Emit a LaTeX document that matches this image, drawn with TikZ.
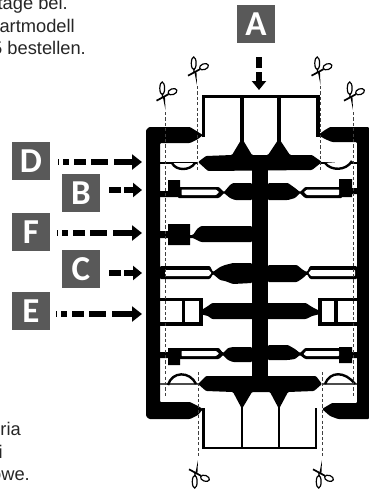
\documentclass[tikz,border=0pt]{standalone}
\usepackage{fontspec}
\setmainfont{Liberation Sans}
\newfontfamily\boxfont{Carlito}[BoldFont={Carlito Bold}]
\usetikzlibrary{arrows.meta}
\definecolor{boxgrey}{HTML}{595959}
\tikzset{
  x=1pt,y=-1pt,
  letterbox/.style={fill=boxgrey,text=white,minimum size=38pt,inner sep=0pt,font=\fontsize{35}{35}\selectfont\bfseries\boxfont},
  bodytext/.style={inner sep=0pt,font=\fontsize{18.3}{22}\selectfont,text=black!85},
  solidpart/.style={fill=black,rounded corners=1pt},
  thinline/.style={draw=black,line width=2.4pt,line join=round},
  boxline/.style={draw=black,line width=3.4pt,line join=miter},
  voidpart/.style={fill=white,rounded corners=.6pt},
  cutline/.style={draw=black!75,line width=.9pt,dash pattern=on 3.2pt off 2.2pt},
  longflow/.style={line width=6pt,dash pattern=on .8pt off 4.5pt on 6pt off 5pt on 12pt off 5pt on 17pt off 6pt on 30pt off 0pt,-{Triangle[length=10pt,width=15pt]}},
  shortflow/.style={line width=6pt,dash pattern=on 12pt off 3pt on 30pt off 0pt,-{Triangle[length=9pt,width=14pt]}},
  downflow/.style={line width=6pt,dash pattern=on 11pt off 4pt on 30pt off 0pt,-{Triangle[length=9pt,width=14pt]}},
  shears/.pic={
    \fill (0,0) -- (-2.8,-14) -- (-.6,-14) -- cycle;
    \draw[line width=1.2pt] (-3.2,-13) -- (-2.7,-16);
    \draw[line width=1.2pt] (-3.3,-21.7) ellipse [x radius=2.4pt,y radius=6.3pt];
    \draw[line width=1.2pt,rotate around={20:(7,-18.3)}] (7,-18.3) ellipse [x radius=4.6pt,y radius=2.9pt];
    \draw[line width=1.7pt] (-9,-9.3) -- (3,-15.8);
  }
}
\begin{document}
\begin{tikzpicture}
\useasboundingbox (0,0) rectangle (369,491);
% frame
\fill[solidpart] (149,127) -- (190,127) -- (198,132) -- (203,135) -- (198,139) -- (190,143) -- (160,143) -- (160,402) -- (190,402) -- (198,406) -- (203,409) -- (198,415) -- (190,419) -- (149,419) -- (146,416) -- (146,130) -- cycle;
\fill[solidpart] (369,127) -- (330,127) -- (325,130) -- (318,135) -- (325,139) -- (332,142) -- (357,142) -- (357,403) -- (332,403) -- (322,409) -- (330,416) -- (338,419) -- (369,419) -- cycle;
% upper and lower compartment
\draw[boxline] (203.5,137) -- (203.5,96.5) -- (318,96.5) -- (318,137);
\draw[line width=3.3pt] (242,96) -- (242,145) (279,96) -- (279,145);
\draw[line width=2.8pt] (203.5,408) -- (203.5,448) -- (316,448) -- (316,408);
\draw[line width=1.8pt] (242,404) -- (242,449) (279,404) -- (279,449);
% spine and main bars
\fill[black] (252,155) rectangle (268,392);
\fill[solidpart] (198,162) -- (206,156) -- (232,155) -- (241,140) -- (243,140) -- (252,155) -- (268,155) -- (278,140) -- (280,140) -- (290,155) -- (312,155) -- (322,162) -- (312,170) -- (208,171) -- cycle;
\fill[solidpart] (198,384) -- (206,376) -- (316,376) -- (322,384) -- (314,391) -- (288,392) -- (279.5,408) -- (278.5,408) -- (270,392) -- (252,392) -- (242.5,408) -- (241.5,408) -- (233,392) -- (206,391) -- cycle;
% row D
\draw[thinline] (160,163) -- (198,163);
\filldraw[thinline,fill=white] (172,163) .. controls (176,171) and (190,171) .. (195,163);
\draw[thinline] (320,163) -- (357,163);
\filldraw[thinline,fill=white] (325,163) .. controls (331,171) and (346,171) .. (352,161);
% row B
\fill[black] (160,191) rectangle (168,197) (168,180) rectangle (180,197);
\fill[solidpart] (178,187) -- (219,187) -- (224,192) -- (230,185) -- (233,183) -- (252,183) -- (252,200) -- (235,200) -- (230,198) -- (224,193) -- (219,198) -- (178,198) -- cycle;
\fill[voidpart] (181.5,189.6) -- (216,189.6) -- (219,192) -- (216,195) -- (181.5,195) -- cycle;
\fill[black] (352,188) rectangle (357,194) (339,179) rectangle (352,197);
\fill[solidpart] (268,183) -- (288,183) -- (295,188) -- (300,192) -- (305,187) -- (342,187) -- (342,198) -- (305,198) -- (300,193) -- (295,198) -- (288,200) -- (268,200) -- cycle;
\fill[voidpart] (304,192) -- (307,189.6) -- (339,189.6) -- (339,195) -- (307,195) -- cycle;
% row F
\fill[black] (160,231) rectangle (168,238) (168,224) rectangle (190,245);
\fill[solidpart] (188,235) -- (193,235) -- (197,229) -- (201,226) -- (252,226) -- (252,242) -- (201,242) -- (197,240) -- (193,238) -- (188,238) -- cycle;
% row C
\fill[solidpart] (160,266) -- (210,266) -- (213,272) -- (220,267) -- (225,265) -- (233,263) -- (252,263) -- (252,283) -- (233,284) -- (225,281) -- (220,280) -- (213,274) -- (210,279) -- (160,279) -- cycle;
\fill[voidpart] (165,270) -- (209,270) -- (211.5,273) -- (209,276) -- (165,276) -- cycle;
\fill[solidpart] (268,265) -- (297,265) -- (303,270) -- (307,272) -- (310,266) -- (357,266) -- (357,279) -- (310,279) -- (307,274) -- (303,278) -- (297,282) -- (268,282) -- cycle;
\fill[voidpart] (308.5,273) -- (311,270) -- (355,270) -- (355,276) -- (311,276) -- cycle;
% row E
\fill[solidpart] (200,311) -- (208,306) -- (212,303) -- (306,303) -- (312,307) -- (320,311) -- (320,314) -- (312,316) -- (306,319) -- (212,319) -- (208,316) -- (200,314) -- cycle;
\draw[boxline] (160,299.5) -- (201,299.5) -- (201,324) -- (160,324) (183.5,299.5) -- (183.5,324);
\draw[boxline] (357,299.5) -- (320,299.5) -- (320,324) -- (357,324) (336,299.5) -- (336,324);
% row B2
\fill[black] (160,352) rectangle (168,358) (168,348) rectangle (180,365);
\fill[solidpart] (178,348) -- (219,348) -- (223,353) -- (228,348) -- (233,347) -- (252,347) -- (252,362) -- (233,362) -- (228,360) -- (223,355) -- (219,359) -- (178,359) -- cycle;
\fill[voidpart] (181.5,351) -- (216,351) -- (219,353.5) -- (216,356) -- (181.5,356) -- cycle;
\fill[black] (352,352) rectangle (357,358) (339,347) rectangle (352,363);
\fill[solidpart] (268,345) -- (288,345) -- (295,349) -- (300,353) -- (305,348) -- (342,348) -- (342,359) -- (305,359) -- (300,355) -- (295,359) -- (288,360) -- (268,360) -- cycle;
\fill[voidpart] (303.5,354) -- (306,351) -- (339,351) -- (339,356) -- (306,356) -- cycle;
% row D2
\draw[draw=black!70,line width=1.6pt] (160,384) -- (198,384) (322,384) -- (357,384);
\draw[thinline] (168,385) .. controls (172,371) and (190,371) .. (196,384);
\draw[thinline] (325,384) .. controls (330,371) and (345,371) .. (355,384);
% cut lines
\draw[cutline] (165.5,112) -- (165.5,397);
\draw[cutline] (353.5,112) -- (353.5,397);
\draw[cutline] (197,86) -- (197,172);
\draw[cutline] (320.5,86) -- (320.5,172);
\draw[cutline] (198,372) -- (198,458);
\draw[cutline] (322,372) -- (322,458);
\pic at (165.5,110) {shears};
\pic at (353,110) {shears};
\pic at (197,85) {shears};
\pic at (320.5,85) {shears};
\pic[yscale=-1] at (198,460) {shears};
\pic[yscale=-1] at (322,460) {shears};
% letter boxes
\node[letterbox] (A) at (256,24) {A};
\node[letterbox] (D) at (31,161) {D};
\node[letterbox] (B) at (81,193) {B};
\node[letterbox] (F) at (31,232) {F};
\node[letterbox] (C) at (81,269) {C};
\node[letterbox] (E) at (31,311) {E};
% flows
\coordinate (inA) at (259,96);
\coordinate (fromA) at (259,57);
\coordinate (inD) at (146,162);
\coordinate (fromD) at (58,162);
\coordinate (inB) at (146,190);
\coordinate (fromB) at (109,190);
\coordinate (inF) at (146,233);
\coordinate (fromF) at (57,233);
\coordinate (inC) at (146,273);
\coordinate (fromC) at (109,273);
\coordinate (inE) at (146,314);
\coordinate (fromE) at (56,314);
\draw[downflow,shorten >=6pt] (fromA) -- (inA);
\draw[longflow,shorten >=4pt] (fromD) -- (inD);
\draw[shortflow,shorten >=4pt] (fromB) -- (inB);
\draw[longflow,shorten >=4pt] (fromF) -- (inF);
\draw[shortflow,shorten >=4pt] (fromC) -- (inC);
\draw[longflow,shorten >=4pt] (fromE) -- (inE);
% cropped texts
\node[bodytext,anchor=base east] (t1) at (68,9) {tage bei.};
\node[bodytext,anchor=base east] (t2) at (75,32) {artmodell};
\node[bodytext,anchor=base east] (t3) at (86,54) {5 bestellen.};
\node[bodytext,anchor=base east] (t4) at (21,435) {ria};
\node[bodytext,anchor=base east] (t5) at (3,458) {i};
\node[bodytext,anchor=base east] (t6) at (30,480) {owe.};
\end{tikzpicture}
\end{document}
